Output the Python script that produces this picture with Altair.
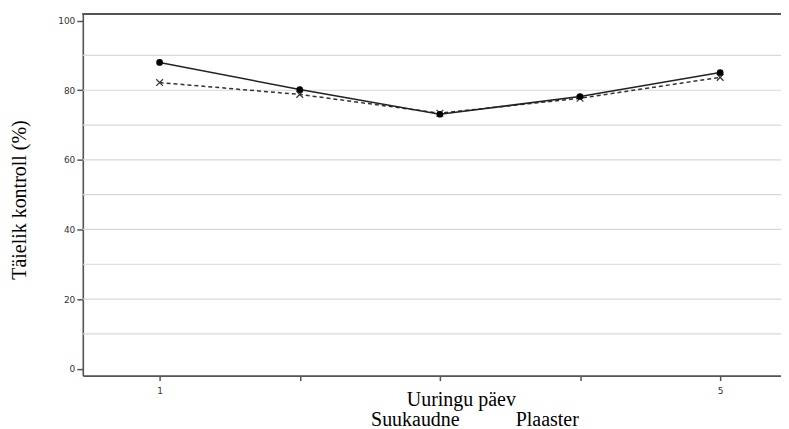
import altair as alt
import pandas as pd

days = [1, 2, 3, 4, 5]
suukaudne = [88.0, 80.2, 73.1, 78.2, 85.1]
plaaster = [82.2, 78.8, 73.4, 77.7, 83.7]
series_names = ["Suukaudne", "Plaaster"]
grid_values = [10, 20, 30, 40, 50, 60, 70, 80, 90]
y_ticks = [0, 20, 40, 60, 80, 100]

W, H = 700, 362.5

df = pd.DataFrame({
    "day": days * 2,
    "value": suukaudne + plaaster,
    "series": [series_names[0]] * 5 + [series_names[1]] * 5,
})
grid_df = pd.DataFrame({"g": grid_values})

xscale = alt.Scale(domain=[0.452, 5.434], nice=False, zero=False)
yscale = alt.Scale(domain=[-2.0, 101.9], nice=False, zero=False)

y_axis = alt.Axis(values=y_ticks, title="Täielik kontroll (%)",
                  grid=False, domainColor="#555", domainWidth=1.6,
                  tickColor="#555", tickSize=6, tickWidth=1.5,
                  labelFont="DejaVu Sans", labelFontSize=9, labelColor="#333",
                  labelPadding=2,
                  titleFont="Liberation Serif", titleFontSize=20, titleFontWeight="normal",
                  titleColor="#000", titleAngle=270, titleX=-63, titleY=186,
                  titleAlign="center", titleBaseline="middle")
x_axis = alt.Axis(values=days, title="Uuringu päev",
                  labelExpr="datum.value == 1 || datum.value == 5 ? datum.label : ''",
                  grid=False, domainColor="#555", domainWidth=1.6,
                  tickColor="#555", tickSize=5, tickWidth=1.5,
                  labelFont="DejaVu Sans", labelFontSize=9, labelColor="#333",
                  labelPadding=6,
                  titleFont="Liberation Serif", titleFontSize=20, titleFontWeight="normal",
                  titleColor="#000", titleX=379, titleY=30,
                  titleAlign="center", titleBaseline="alphabetic")

grid = alt.Chart(grid_df).mark_rule(color="#d8d8d8", strokeWidth=1.2).encode(
    y=alt.Y("g:Q", scale=yscale, axis=y_axis),
    x=alt.value(0), x2=alt.value(W),
)

top_border = alt.Chart(grid_df).mark_rule(color="#555", strokeWidth=1.6).encode(
    y=alt.value(0), x=alt.value(0), x2=alt.value(W),
)

base = alt.Chart(df).encode(
    x=alt.X("day:Q", scale=xscale, axis=x_axis),
    y=alt.Y("value:Q", scale=yscale, axis=y_axis),
)

line_s = base.transform_filter(alt.datum.series == "Suukaudne").mark_line(
    color="#222", strokeWidth=1.5)
line_p = base.transform_filter(alt.datum.series == "Plaaster").mark_line(
    color="#333", strokeWidth=1.5, strokeDash=[4, 3])
pts_s = base.transform_filter(alt.datum.series == "Suukaudne").mark_point(
    shape="circle", filled=True, color="#000", size=45, opacity=1)
pts_p = base.transform_filter(alt.datum.series == "Plaaster").mark_point(
    shape="M-1,-1L1,1M-1,1L1,-1", filled=False, color="#333", size=45,
    strokeWidth=1.2, opacity=1)

leg_df = pd.DataFrame({"name": series_names})
leg_s = alt.Chart(leg_df).transform_filter(alt.datum.name == "Suukaudne").mark_text(
    font="Liberation Serif", fontSize=20, color="#000", align="left", baseline="alphabetic"
).encode(text="name:N", x=alt.value(289), y=alt.value(413.5))
leg_p = alt.Chart(leg_df).transform_filter(alt.datum.name == "Plaaster").mark_text(
    font="Liberation Serif", fontSize=20, color="#000", align="left", baseline="alphabetic"
).encode(text="name:N", x=alt.value(434), y=alt.value(413.5))

chart = alt.layer(grid, top_border, line_p, line_s, pts_p, pts_s, leg_s, leg_p).properties(
    width=W, height=H,
    autosize=alt.AutoSizeParams(type="none"),
    padding={"left": 75, "top": 5.5, "right": 0, "bottom": 53},
).configure_view(stroke=None).configure(background="white")

chart.save("out.html", embed_options={"renderer": "svg", "actions": False})
